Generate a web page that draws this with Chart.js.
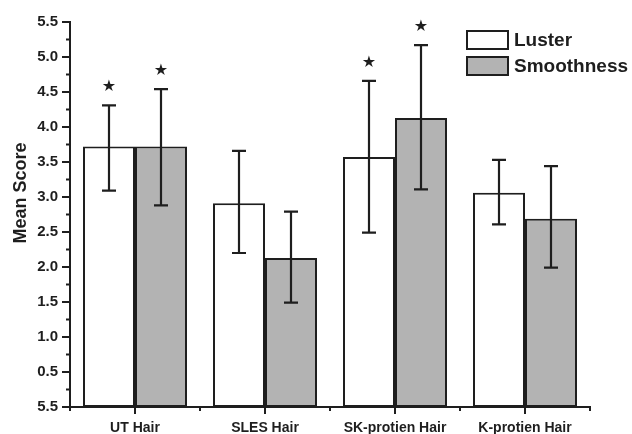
<!DOCTYPE html>
<html>
<head>
<meta charset="utf-8">
<script src="https://cdn.jsdelivr.net/npm/chart.js@4.4.1/dist/chart.umd.min.js"></script>
<style>
  body { margin: 0; background: #fff; }
  #wrap { width: 632px; height: 434px; }
</style>
</head>
<body>
<div id="wrap"><canvas id="scoreChart" width="632" height="434"></canvas></div>
<script>
// data
const categories = ['UT Hair', 'SLES Hair', 'SK-protien Hair', 'K-protien Hair'];
const lusterMean = [3.72, 2.91, 3.57, 3.06];
const lusterUpper = [4.31, 3.66, 4.66, 3.53];
const lusterLower = [3.09, 2.20, 2.49, 2.61];
const smoothMean = [3.72, 2.13, 4.13, 2.69];
const smoothUpper = [4.54, 2.79, 5.17, 3.44];
const smoothLower = [2.88, 1.49, 3.11, 1.99];
const lusterStar = [true, false, true, false];
const smoothStar = [true, false, true, false];
// the bottom tick is printed as "5.5" in the original
const yTickLabels = ['5.5', '0.5', '1.0', '1.5', '2.0', '2.5', '3.0', '3.5', '4.0', '4.5', '5.0', '5.5'];

const ink = '#1e1e1e';
const grayFill = '#b3b3b3';
const errUpper = [lusterUpper, smoothUpper];
const errLower = [lusterLower, smoothLower];
const stars = [lusterStar, smoothStar];

// error bars, stars, minor ticks, legend and axis title
const extras = {
    id: 'extras',
    afterDatasetsDraw(chart) {
        const ctx = chart.ctx;
        const y = chart.scales.y;
        ctx.save();
        ctx.strokeStyle = ink;
        ctx.fillStyle = ink;
        ctx.lineWidth = 2.2;
        for (let d = 0; d < 2; d++) {
            const meta = chart.getDatasetMeta(d);
            meta.data.forEach(function(bar, j) {
                const top = y.getPixelForValue(errUpper[d][j]);
                const bot = y.getPixelForValue(errLower[d][j]);
                ctx.beginPath();
                ctx.moveTo(bar.x, top); ctx.lineTo(bar.x, bot);
                ctx.moveTo(bar.x - 7, top); ctx.lineTo(bar.x + 7, top);
                ctx.moveTo(bar.x - 7, bot); ctx.lineTo(bar.x + 7, bot);
                ctx.stroke();
                if (stars[d][j]) {
                    ctx.font = 'bold 16px "DejaVu Sans"';
                    ctx.textAlign = 'center';
                    ctx.textBaseline = 'middle';
                    ctx.fillText('\u2605', bar.x, top - 18);
                }
            });
        }
        ctx.restore();
    },
    afterDraw(chart) {
        const ctx = chart.ctx;
        const area = chart.chartArea;
        const y = chart.scales.y;
        const x = chart.scales.x;
        ctx.save();
        ctx.strokeStyle = ink;
        ctx.lineWidth = 2;
        ctx.beginPath();
        for (let v = 0; v <= 5.5001; v += 0.25) {
            const py = y.getPixelForValue(v);
            const major = Math.abs(v * 2 - Math.round(v * 2)) < 1e-6;
            ctx.moveTo(area.left - (major ? 8 : 4), py);
            ctx.lineTo(area.left, py);
        }
        const catW = (area.right - area.left) / categories.length;
        for (let k = 0; k <= categories.length; k++) {
            const px = area.left + k * catW;
            ctx.moveTo(px, area.bottom);
            ctx.lineTo(px, area.bottom + 4);
        }
        categories.forEach(function(c, j) {
            const px = x.getPixelForValue(j);
            ctx.moveTo(px, area.bottom);
            ctx.lineTo(px, area.bottom + 7);
        });
        ctx.stroke();

        // legend
        const items = chart.data.datasets;
        ctx.font = 'bold 19px "Liberation Sans", Arial';
        ctx.textAlign = 'left';
        ctx.textBaseline = 'middle';
        items.forEach(function(ds, i) {
            const by = 31 + i * 26;
            ctx.fillStyle = ds.backgroundColor;
            ctx.fillRect(467, by, 41, 18);
            ctx.strokeRect(467, by, 41, 18);
            ctx.fillStyle = ink;
            ctx.fillText(ds.label, 514, by + 10);
        });

        // axis title
        ctx.translate(21, 193);
        ctx.rotate(-Math.PI / 2);
        ctx.textAlign = 'center';
        ctx.font = 'bold 18px "Liberation Sans", Arial';
        ctx.fillText('Mean Score', 0, 0);
        ctx.restore();
    }
};

new Chart(document.getElementById('scoreChart'), {
    type: 'bar',
    data: {
        labels: categories,
        datasets: [
            {
                label: 'Luster',
                data: lusterMean,
                backgroundColor: '#ffffff',
                borderColor: ink,
                borderWidth: 2,
                borderSkipped: false
            },
            {
                label: 'Smoothness',
                data: smoothMean,
                backgroundColor: grayFill,
                borderColor: ink,
                borderWidth: 2,
                borderSkipped: false
            }
        ]
    },
    options: {
        responsive: false,
        animation: false,
        layout: { padding: { left: 0, top: 22, right: 42, bottom: 0 } },
        datasets: { bar: { categoryPercentage: 0.8, barPercentage: 1.0 } },
        scales: {
            x: {
                grid: { display: false, drawTicks: false },
                border: { color: ink, width: 2 },
                ticks: {
                    padding: 13,
                    color: ink,
                    font: { family: '"Liberation Sans", Arial', weight: 'bold', size: 14 }
                },
                afterFit(scale) { scale.height = 27; }
            },
            y: {
                min: 0,
                max: 5.5,
                grid: { display: false, drawTicks: false },
                border: { color: ink, width: 2 },
                ticks: {
                    stepSize: 0.5,
                    padding: 12,
                    color: ink,
                    font: { family: '"Liberation Sans", Arial', weight: 'bold', size: 15 },
                    callback: function(value) { return yTickLabels[Math.round(value * 2)]; }
                },
                afterFit(scale) { scale.width = 70; }
            }
        },
        plugins: {
            legend: { display: false },
            tooltip: { enabled: false }
        }
    },
    plugins: [extras]
});
</script>
</body>
</html>
